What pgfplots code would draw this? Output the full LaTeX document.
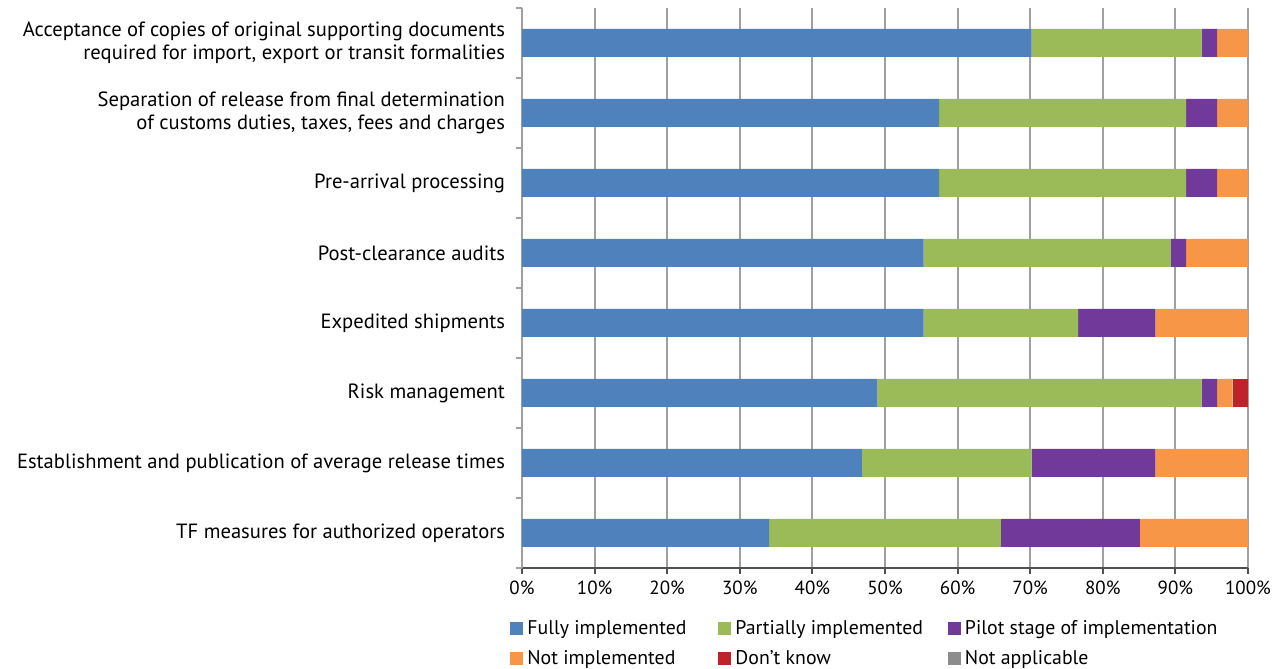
\documentclass[border=0pt]{standalone}
\usepackage{pgfplots}
\pgfplotsset{compat=1.18}
\usepackage{pgfplotstable}
\usepackage{fontspec}
\setmainfont{PT Sans}
\usetikzlibrary{calc}

\definecolor{cfull}{HTML}{4F81BD}
\definecolor{cpart}{HTML}{9BBB59}
\definecolor{cpilot}{HTML}{71399A}
\definecolor{cnot}{HTML}{F79646}
\definecolor{cdk}{HTML}{C0222A}
\definecolor{cna}{HTML}{8C8C8C}
\definecolor{gridc}{HTML}{A0A0A0}
\definecolor{axisc}{HTML}{505050}

% shares of 47 responses, in percent
\pgfplotstableread{
cat full partial pilot notimp dk na
0 70.21 23.40 2.13 4.26 0 0
1 57.45 34.04 4.26 4.26 0 0
2 57.45 34.04 4.26 4.26 0 0
3 55.32 34.04 2.13 8.51 0 0
4 55.32 21.28 10.64 12.77 0 0
5 48.94 44.68 2.13 2.13 2.13 0
6 46.81 23.40 17.02 12.77 0 0
7 34.04 31.91 19.15 14.89 0 0
}\datatable

\begin{document}
\begin{tikzpicture}
\begin{axis}[
  name=ax,
  scale only axis,
  width=363bp, height=280bp,
  xbar stacked,
  bar width=14bp,
  y dir=reverse,
  xmin=0, xmax=100,
  ymin=-0.5, ymax=7.5,
  xtick={0,10,...,100},
  xticklabel={\pgfmathprintnumber{\tick}\%},
  /pgf/number format/assume math mode=true,
  ytick={0,...,7},
  yticklabels={
    {Acceptance of copies of original supporting documents\\required for import, export or transit formalities},
    {Separation of release from final determination\\of customs duties, taxes, fees and charges},
    {Pre-arrival processing},
    {Post-clearance audits},
    {Expedited shipments},
    {Risk management},
    {Establishment and publication of average release times},
    {TF measures for authorized operators}},
  yticklabel style={align=right, xshift=-2bp, font=\fontsize{10.3bp}{11.5bp}\selectfont},
  xticklabel style={font=\fontsize{9.5bp}{11.5bp}\selectfont},
  minor ytick={-0.5,0.5,...,7.5},
  major y tick style={draw=none},
  minor y tick style={gridc, line width=1bp},
  minor tick length=3bp,
  major tick length=3bp,
  tick align=outside,
  x tick style={axisc, line width=1bp},
  xmajorgrids,
  grid style={gridc, line width=1bp},
  axis lines*=left,
  x axis line style={axisc, line width=1bp},
  y axis line style={gridc, line width=1bp},
  legend columns=3,
  legend cell align=left,
  legend style={at={(axis description cs:-0.0165,-0.0857)}, anchor=north west,
    draw=none, fill=none, inner sep=0pt,
    font=\fontsize{9.9bp}{11.5bp}\selectfont,
    /tikz/every even column/.append style={column sep=10.5bp},
    /tikz/row sep=2.5bp},
  legend image code/.code={\fill[#1] (0bp,-3.2bp) rectangle (6.5bp,3.3bp);},
]
\addplot[fill=cfull, draw=none] table[x=full, y=cat] {\datatable};
\addlegendentry{Fully implemented\rule{3.5bp}{0pt}}
\addplot[fill=cpart, draw=none] table[x=partial, y=cat] {\datatable};
\addlegendentry{Partially implemented}
\addplot[fill=cpilot, draw=none] table[x=pilot, y=cat] {\datatable};
\addlegendentry{Pilot stage of implementation}
\addplot[fill=cnot, draw=none] table[x=notimp, y=cat] {\datatable};
\addlegendentry{Not implemented}
\addplot[fill=cdk, draw=none] table[x=dk, y=cat] {\datatable};
\addlegendentry{Don’t know}
\addplot[fill=cna, draw=none] table[x=na, y=cat] {\datatable};
\addlegendentry{Not applicable}
\end{axis}
\pgfresetboundingbox
\path[use as bounding box] ($(ax.south west)+(-261bp,-50.5bp)$) rectangle ($(ax.north east)+(18bp,4bp)$);
\end{tikzpicture}
\end{document}
